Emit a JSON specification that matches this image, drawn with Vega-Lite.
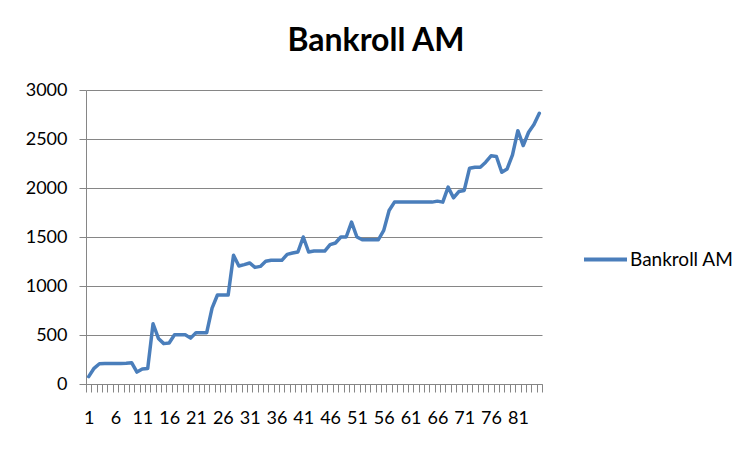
{
  "$schema": "https://vega.github.io/schema/vega-lite/v6.json",
  "width": 456,
  "height": 294,
  "autosize": {"type": "none"},
  "padding": {"left": 86, "top": 90, "right": 212, "bottom": 70},
  "background": "white",
  "title": {
    "text": "Bankroll AM",
    "font": "Lato",
    "fontSize": 32,
    "fontWeight": "bold",
    "color": "black",
    "anchor": "middle",
    "dx": 62,
    "offset": 23
  },
  "data": {
    "values": [
      {"n": 1, "v": 75}, {"n": 2, "v": 160}, {"n": 3, "v": 207}, {"n": 4, "v": 210}, {"n": 5, "v": 210},
      {"n": 6, "v": 210}, {"n": 7, "v": 210}, {"n": 8, "v": 212}, {"n": 9, "v": 218}, {"n": 10, "v": 122},
      {"n": 11, "v": 153}, {"n": 12, "v": 157}, {"n": 13, "v": 615}, {"n": 14, "v": 465}, {"n": 15, "v": 412},
      {"n": 16, "v": 418}, {"n": 17, "v": 502}, {"n": 18, "v": 502}, {"n": 19, "v": 502}, {"n": 20, "v": 468},
      {"n": 21, "v": 523}, {"n": 22, "v": 523}, {"n": 23, "v": 523}, {"n": 24, "v": 775}, {"n": 25, "v": 908},
      {"n": 26, "v": 908}, {"n": 27, "v": 908}, {"n": 28, "v": 1313}, {"n": 29, "v": 1204}, {"n": 30, "v": 1218},
      {"n": 31, "v": 1235}, {"n": 32, "v": 1190}, {"n": 33, "v": 1200}, {"n": 34, "v": 1252}, {"n": 35, "v": 1262},
      {"n": 36, "v": 1262}, {"n": 37, "v": 1262}, {"n": 38, "v": 1323}, {"n": 39, "v": 1337}, {"n": 40, "v": 1347},
      {"n": 41, "v": 1500}, {"n": 42, "v": 1347}, {"n": 43, "v": 1357}, {"n": 44, "v": 1357}, {"n": 45, "v": 1357},
      {"n": 46, "v": 1422}, {"n": 47, "v": 1439}, {"n": 48, "v": 1500}, {"n": 49, "v": 1500}, {"n": 50, "v": 1652},
      {"n": 51, "v": 1500}, {"n": 52, "v": 1472}, {"n": 53, "v": 1472}, {"n": 54, "v": 1472}, {"n": 55, "v": 1472},
      {"n": 56, "v": 1568}, {"n": 57, "v": 1771}, {"n": 58, "v": 1856}, {"n": 59, "v": 1856}, {"n": 60, "v": 1856},
      {"n": 61, "v": 1856}, {"n": 62, "v": 1856}, {"n": 63, "v": 1856}, {"n": 64, "v": 1856}, {"n": 65, "v": 1856},
      {"n": 66, "v": 1866}, {"n": 67, "v": 1856}, {"n": 68, "v": 2009}, {"n": 69, "v": 1900}, {"n": 70, "v": 1964},
      {"n": 71, "v": 1975}, {"n": 72, "v": 2202}, {"n": 73, "v": 2212}, {"n": 74, "v": 2212}, {"n": 75, "v": 2263},
      {"n": 76, "v": 2328}, {"n": 77, "v": 2321}, {"n": 78, "v": 2161}, {"n": 79, "v": 2195}, {"n": 80, "v": 2338},
      {"n": 81, "v": 2585}, {"n": 82, "v": 2433}, {"n": 83, "v": 2569}, {"n": 84, "v": 2647}, {"n": 85, "v": 2762}
    ]
  },
  "mark": {"type": "line", "strokeWidth": 3.5, "strokeCap": "round", "strokeJoin": "round"},
  "encoding": {
    "x": {
      "field": "n",
      "type": "quantitative",
      "scale": {"domain": [0.5, 85.5], "nice": false, "zero": false},
      "axis": {
        "title": null,
        "grid": false,
        "values": [0.5,1.5,2.5,3.5,4.5,5.5,6.5,7.5,8.5,9.5,10.5,11.5,12.5,13.5,14.5,15.5,16.5,17.5,18.5,19.5,20.5,21.5,22.5,23.5,24.5,25.5,26.5,27.5,28.5,29.5,30.5,31.5,32.5,33.5,34.5,35.5,36.5,37.5,38.5,39.5,40.5,41.5,42.5,43.5,44.5,45.5,46.5,47.5,48.5,49.5,50.5,51.5,52.5,53.5,54.5,55.5,56.5,57.5,58.5,59.5,60.5,61.5,62.5,63.5,64.5,65.5,66.5,67.5,68.5,69.5,70.5,71.5,72.5,73.5,74.5,75.5,76.5,77.5,78.5,79.5,80.5,81.5,82.5,83.5,84.5,85.5],
        "labelExpr": "((datum.value - 0.5) % 5 == 0 && datum.value < 85) ? format(datum.value + 0.5, 'd') : ''",
        "labelOffset": 2.7,
        "labelOverlap": false,
        "labelFlush": false,
        "labelFont": "Lato",
        "labelFontSize": 18,
        "labelColor": "black",
        "labelPadding": 17,
        "tickSize": 8,
        "tickColor": "#868686",
        "domainColor": "#868686",
        "tickWidth": 1,
        "domainWidth": 1
      }
    },
    "y": {
      "field": "v",
      "type": "quantitative",
      "scale": {"domain": [0, 3000], "nice": false},
      "axis": {
        "title": null,
        "values": [0, 500, 1000, 1500, 2000, 2500, 3000],
        "format": "d",
        "grid": true,
        "gridColor": "#868686",
        "gridWidth": 1,
        "labelFont": "Lato",
        "labelFontSize": 18,
        "labelColor": "black",
        "labelPadding": 12,
        "tickSize": 7,
        "tickColor": "#868686",
        "domainColor": "#868686",
        "domainWidth": 1
      }
    },
    "color": {
      "datum": "Bankroll AM",
      "type": "nominal",
      "scale": {"range": ["#4A7EBB"]},
      "legend": {
        "title": null,
        "orient": "none",
        "legendX": 496,
        "legendY": 146,
        "symbolType": "stroke",
        "symbolSize": 1849,
        "symbolStrokeWidth": 4,
        "labelFont": "Lato",
        "labelFontSize": 19,
        "labelColor": "black",
        "labelOffset": 1
      }
    }
  },
  "config": {
    "view": {"stroke": null}
  }
}
